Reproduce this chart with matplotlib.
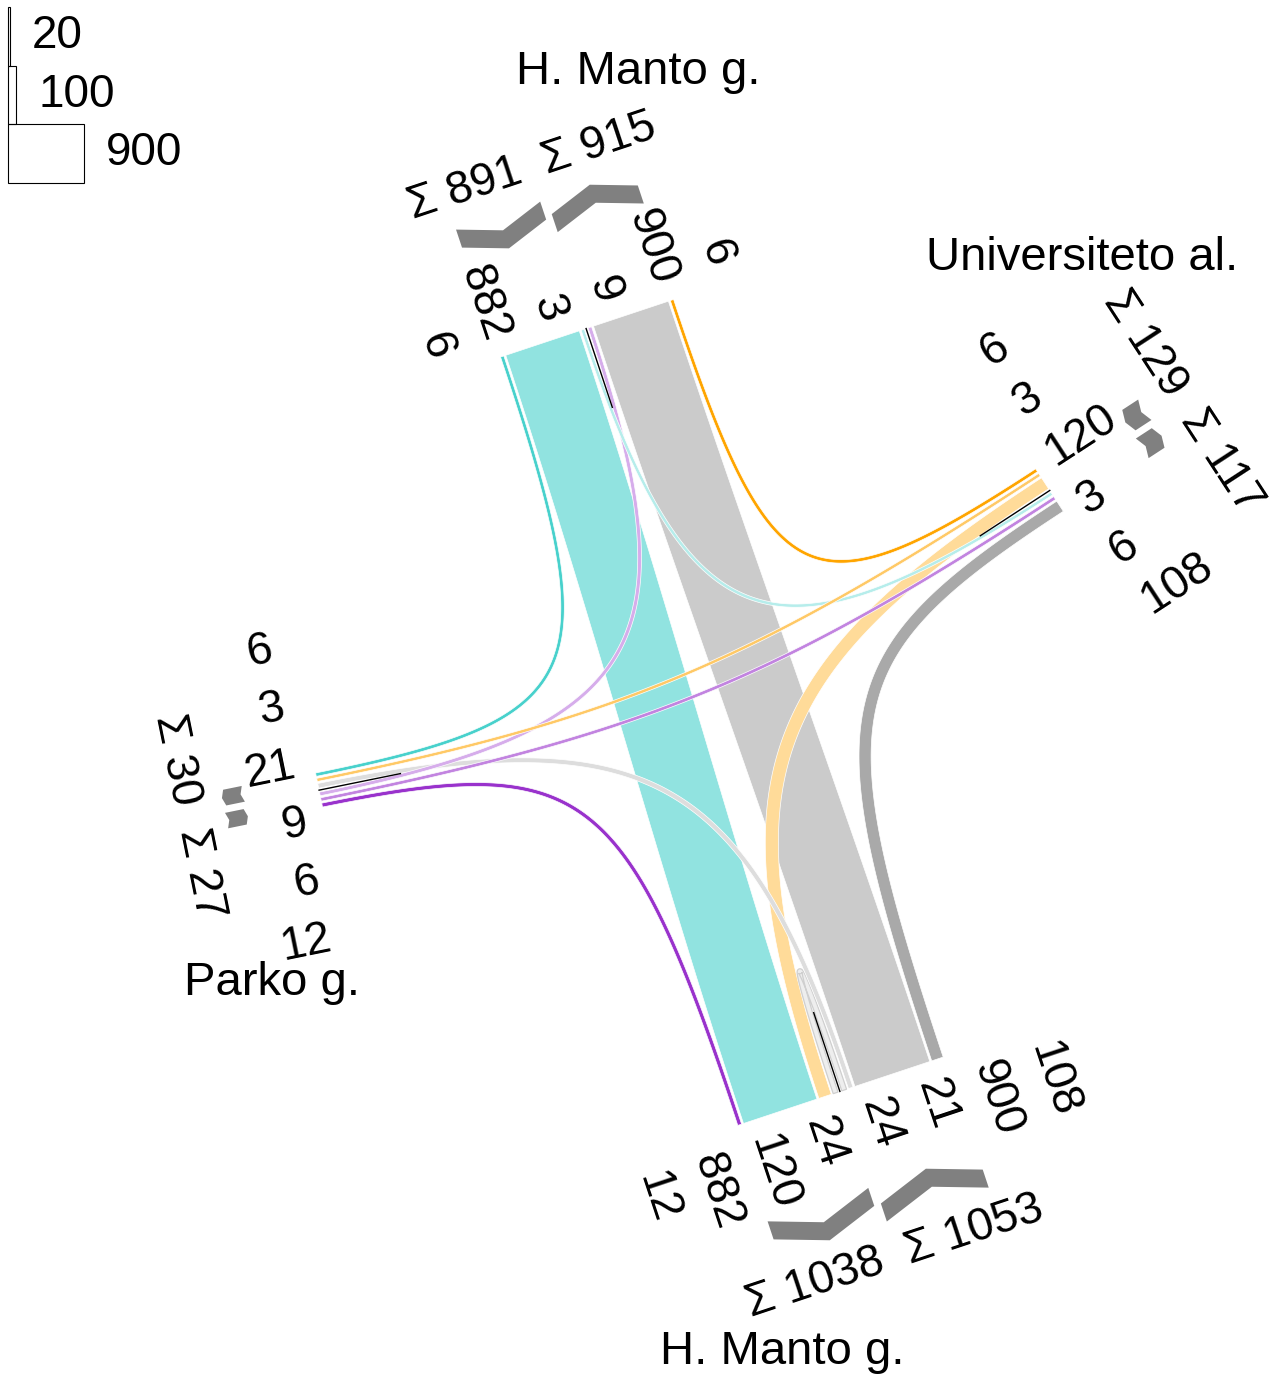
"""
Junction turning-count diagram (H. Manto g. / Universiteto al. / Parko g.).
Band widths are proportional to the number of vehicles per movement.
"""

import numpy as np
import matplotlib
matplotlib.use("Agg")   # file output only
import matplotlib.pyplot as plt
from matplotlib.patches import Polygon, Rectangle
from matplotlib.colors import to_rgb

# --------------------------------------------------------------------------
# Data: vehicles per movement
# --------------------------------------------------------------------------

ARMS      = ["N", "E", "S", "W"]                      # clockwise
ARM_NAMES = ["H. Manto g.", "Universiteto al.", "H. Manto g.", "Parko g."]

FLOW_FROM = ["N", "N", "N", "E", "E", "E", "S", "S", "S", "S", "W", "W", "W"]
FLOW_TO   = ["W", "S", "E", "N", "W", "S", "E", "N", "W", "S", "S", "E", "N"]
FLOW_VEH  = [6, 882, 3, 6, 3, 120, 108, 900, 21, 24, 12, 6, 9]

LEGEND_VEH = [20, 100, 900]

# --------------------------------------------------------------------------
# Layout (pixel space, y pointing down)
# --------------------------------------------------------------------------

W_PX, H_PX = 1288, 1378
CENTER     = np.array([713.0, 710.0])
ARM_LEN    = 402.0
ARM_ANGLE  = {"N": -108.4, "E": -33.1, "S": 71.6, "W": 168.5}   # outward, screen deg
NAME_POS   = {"N": (638, 72), "E": (1082, 258), "S": (782, 1352), "W": (272, 983)}

ORIGIN_COLOR = {"N": "mediumturquoise", "E": "orange", "S": "darkgray", "W": "darkorchid"}
TURN_ALPHA   = {0: 0.2, 1: 0.4, 2: 0.6, 3: 1.0}    # u-turn, left, straight, right
CTRL_FRAC    = {1: 0.82, 2: 0.82, 3: 0.9}          # bezier pull towards the corner

PX_PER_VEH = 0.0844
BASE_W     = 3.0
GAP        = 2.0
MEDIAN_LEN = 83.0
LABEL_STEP = 59.0
LABEL_OFF  = 18.0
CHEV_THICK = 19.0
FONT       = 33
FONT_NAME  = 34
FAMILY     = "Liberation Sans"


def arm_frame(arm):
    a = np.deg2rad(ARM_ANGLE[arm])
    n = np.array([np.cos(a), np.sin(a)])       # outward
    e = np.array([-n[1], n[0]])                # lateral, exit side positive
    m = CENTER + ARM_LEN * n
    return m, n, e


def turn(o, d):
    """0 u-turn, 1 left, 2 straight, 3 right (right-hand traffic)."""
    return (ARMS.index(d) - ARMS.index(o)) % 4


def band_width(v):
    return BASE_W + v * PX_PER_VEH


def text_angle(vec):
    """Screen vector -> (upright rotation, reads along vec?)."""
    ang = np.degrees(np.arctan2(-vec[1], vec[0]))
    if np.cos(np.radians(ang)) >= -1e-9:
        return ang, True
    return ang - 180 if ang > 0 else ang + 180, False


def color_of(i):
    rgb = np.array(to_rgb(ORIGIN_COLOR[FLOW_FROM[i]]))
    a = TURN_ALPHA[turn(FLOW_FROM[i], FLOW_TO[i])]
    return tuple(a * rgb + (1 - a))


# --------------------------------------------------------------------------
# Lane layout at each arm end
# --------------------------------------------------------------------------

def lane_layout():
    pos, extent, order = {}, {}, {}
    for arm in ARMS:
        for side, key, sign in (("in", FLOW_FROM, -1), ("out", FLOW_TO, 1)):
            idx = [i for i in range(len(FLOW_VEH)) if key[i] == arm]
            idx.sort(key=lambda i: turn(FLOW_FROM[i], FLOW_TO[i]))
            u = 0.0
            for i in idx:
                w = band_width(FLOW_VEH[i])
                u += GAP
                pos[(i, side)] = sign * (u + w / 2)
                u += w
            extent[(arm, side)] = u
            order[(arm, side)] = idx
    return pos, extent, order


def controls(p0, d0, p3, d1, frac):
    cross = d0[0] * d1[1] - d0[1] * d1[0]
    if abs(cross) > 0.2:
        t, s = np.linalg.solve(np.column_stack([d0, -d1]), p3 - p0)
        if t > 0 and s > 0:
            return p0 + frac * t * d0, p3 + frac * s * d1
    dist = np.linalg.norm(p3 - p0)
    L = 0.42 * ARM_LEN if dist < 50 else dist / 3
    return p0 + L * d0, p3 + L * d1


def band_polygon(p0, p1, p2, p3, w, n=200):
    t = np.linspace(0, 1, n)[:, None]
    b = (1 - t) ** 3 * p0 + 3 * (1 - t) ** 2 * t * p1 + 3 * (1 - t) * t ** 2 * p2 + t ** 3 * p3
    db = 3 * (1 - t) ** 2 * (p1 - p0) + 6 * (1 - t) * t * (p2 - p1) + 3 * t ** 2 * (p3 - p2)
    nrm = np.column_stack([-db[:, 1], db[:, 0]]) / np.linalg.norm(db, axis=1)[:, None]
    return np.vstack([b + nrm * w / 2, (b - nrm * w / 2)[::-1]])


def main():
    fig = plt.figure(figsize=(W_PX / 100, H_PX / 100), dpi=100)
    ax = fig.add_axes([0, 0, 1, 1])
    ax.set_xlim(0, W_PX)
    ax.set_ylim(H_PX, 0)
    ax.axis("off")

    pos, extent, order = lane_layout()
    frames = {a: arm_frame(a) for a in ARMS}

    # ---- flow bands (largest first so thin ones stay visible)
    for i in sorted(range(len(FLOW_VEH)), key=lambda k: -FLOW_VEH[k]):
        mo, no, eo = frames[FLOW_FROM[i]]
        md, nd, ed = frames[FLOW_TO[i]]
        tt = turn(FLOW_FROM[i], FLOW_TO[i])
        p0 = mo + pos[(i, "in")] * eo
        p3 = md + pos[(i, "out")] * ed
        p1, p2 = controls(p0, -no, p3, -nd, CTRL_FRAC.get(tt, 0.82))
        poly = band_polygon(p0, p1, p2, p3, band_width(FLOW_VEH[i]))
        uturn = tt == 0
        ax.add_patch(Polygon(poly, closed=True, facecolor=color_of(i),
                             edgecolor="#cfcfcf" if uturn else "white",
                             linewidth=0.9 if uturn else 0.5, zorder=2))

    for k, arm in enumerate(ARMS):
        m, n, e = frames[arm]

        # median line
        a, b = m, m - MEDIAN_LEN * n
        ax.plot([a[0], b[0]], [a[1], b[1]], color="black", lw=1.0, zorder=5)

        # per-movement labels
        rot, outward = text_angle(n)
        ha = "left" if outward else "right"
        max_len = 0
        for side, sign in (("in", -1), ("out", 1)):
            for j, i in enumerate(order[(arm, side)]):
                u = sign * (LABEL_STEP / 2 + LABEL_STEP * j)
                p = m + u * e + LABEL_OFF * n
                s = str(FLOW_VEH[i])
                max_len = max(max_len, len(s))
                ax.text(p[0], p[1], s, rotation=rot, rotation_mode="anchor",
                        ha=ha, va="center", fontsize=FONT, family=FAMILY, zorder=6)

        # direction chevrons and totals
        label_end = LABEL_OFF + max_len * 0.556 * FONT * 100 / 72
        vbase = label_end + 6 + CHEV_THICK / 2
        srot, along = text_angle(e)
        for side, sign, inward in (("in", -1, True), ("out", 1, False)):
            u0 = sign * 3.5
            u1 = sign * (extent[(arm, side)] + 2)
            um = (u0 + u1) / 2
            depth = 0.35 * abs(um - u0)
            v_end, v_mid = (vbase + depth, vbase) if inward else (vbase, vbase + depth)
            h = CHEV_THICK / 2
            local = [(u0, v_end + h), (um, v_mid + h), (u1, v_end + h),
                     (u1, v_end - h), (um, v_mid - h), (u0, v_end - h)]
            pts = [m + u * e + v * n for u, v in local]
            ax.add_patch(Polygon(pts, closed=True, facecolor="#808080",
                                 edgecolor="none", zorder=4))

            total = sum(FLOW_VEH[i] for i in order[(arm, side)])
            p = m + sign * 12 * e + (vbase + depth + h + 36) * n
            if along:
                sha = "right" if sign < 0 else "left"
            else:
                sha = "left" if sign < 0 else "right"
            ax.text(p[0], p[1], f"\u03a3 {total}", rotation=srot, rotation_mode="anchor",
                    ha=sha, va="center", fontsize=FONT, family=FAMILY, zorder=6)

        # arm name
        x, y = NAME_POS[arm]
        ax.text(x, y, ARM_NAMES[k], ha="center", va="center",
                fontsize=FONT_NAME, family=FAMILY, zorder=6)

    # ---- width legend
    y = 7.0
    box_h = 58.5
    for v in LEGEND_VEH:
        w = v * PX_PER_VEH
        ax.add_patch(Rectangle((8, y), w, box_h, facecolor="none",
                               edgecolor="black", linewidth=0.8, zorder=6))
        ax.text(8 + w + 22, y + box_h / 2, str(v), ha="left", va="center",
                fontsize=FONT, family=FAMILY, zorder=6)
        y += box_h

    fig.savefig("out.png", dpi=100, facecolor="white")
    plt.close(fig)


if __name__ == "__main__":
    main()
